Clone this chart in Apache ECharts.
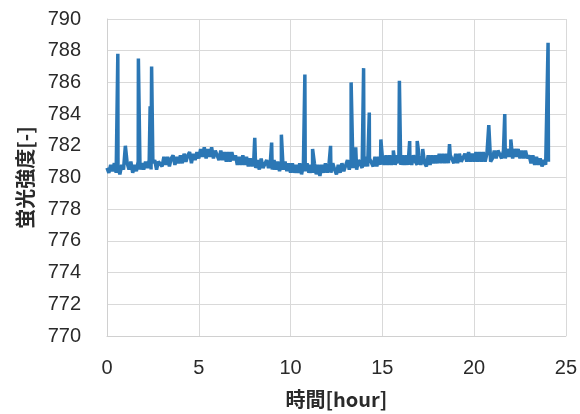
<!DOCTYPE html>
<html>
<head>
<meta charset="utf-8">
<script src="https://cdn.jsdelivr.net/npm/echarts@6/dist/echarts.min.js"></script>
<style>
    html, body { margin: 0; padding: 0; background: #fff; }
    #chart { width: 580px; height: 414px; }
</style>
</head>
<body>
<div id="chart"></div>
<script>
    // baseline readings, one row per hour, sampled every 0.1 h
    var baseStart = 0;
    var baseStep = 0.1;
    var baseValues = [
        780.6, 780.3, 780.8, 780.4, 780.9, 780.3, 780.7, 780.2, 780.8, 780.5,
        780.4, 780.9, 780.5, 781.0, 780.3, 780.8, 780.4, 781.0, 780.5, 780.9,
        780.5, 781.0, 780.6, 781.1, 780.5, 780.9, 781.1, 780.5, 781.0, 781.1,
        780.7, 781.3, 780.8, 781.3, 780.7, 781.2, 781.4, 780.8, 781.3, 780.9,
        781.4, 780.9, 781.5, 781.0, 781.4, 781.6, 780.9, 781.5, 781.1, 781.6,
        781.2, 781.8, 781.3, 781.9, 781.2, 781.8, 781.3, 781.9, 781.2, 781.7,
        781.6, 781.1, 781.7, 781.1, 781.6, 781.0, 781.6, 781.0, 781.6, 781.1,
        781.4, 780.8, 781.3, 780.8, 781.4, 780.8, 781.3, 780.7, 781.2, 780.7,
        781.2, 780.6, 781.1, 780.5, 781.2, 780.6, 780.5, 781.1, 780.6, 781.0,
        780.5, 781.1, 780.5, 781.0, 780.4, 780.9, 780.5, 781.0, 780.4, 780.9,
        780.3, 780.9, 780.3, 780.8, 780.3, 780.9, 780.2, 780.8, 780.4, 780.9,
        780.3, 780.8, 780.3, 780.9, 780.2, 780.8, 780.1, 780.8, 780.3, 780.9,
        780.3, 780.9, 780.3, 780.9, 780.5, 780.2, 780.8, 780.3, 780.9, 780.4,
        780.5, 781.1, 780.5, 781.1, 780.6, 781.2, 780.5, 781.1, 781.2, 780.6,
        780.7, 781.3, 780.7, 781.2, 781.3, 780.7, 781.3, 780.7, 781.3, 780.8,
        781.3, 780.8, 781.4, 780.8, 781.4, 780.8, 781.4, 780.8, 781.4, 780.9,
        780.8, 781.4, 780.8, 781.4, 780.8, 781.4, 780.8, 781.4, 781.0, 780.8,
        781.4, 780.8, 781.4, 780.9, 780.7, 781.4, 780.8, 781.4, 780.9, 781.4,
        780.9, 781.5, 780.9, 781.5, 780.9, 781.5, 780.9, 781.4, 781.5, 780.9,
        781.5, 780.9, 781.5, 781.0, 780.9, 781.5, 781.0, 781.6, 781.0, 781.5,
        781.0, 781.6, 781.0, 781.6, 781.0, 781.6, 781.0, 781.5, 781.6, 781.0,
        781.2, 781.7, 781.2, 781.7, 781.8, 781.2, 781.7, 781.2, 781.8, 781.3,
        781.8, 781.2, 781.8, 781.3, 781.8, 781.2, 781.7, 781.2, 781.7, 781.2,
        781.4, 780.9, 781.4, 780.8, 781.3, 780.8, 781.2, 780.7, 781.1, 780.8,
        780.9
    ];

    // short spikes (hour, value)
    var spikeTimes = [0.59, 1.0, 1.71, 2.35, 2.43, 8.05, 8.97, 9.5, 10.78, 11.2,
        12.18, 13.3, 13.55, 13.98, 14.29, 14.92, 15.6, 15.93, 16.49, 16.9,
        17.2, 18.66, 20.8, 21.67, 22.0, 24.03, 24.05];
    var spikeValues = [787.8, 782.0, 787.5, 784.5, 787.0, 782.5, 782.2, 782.7, 786.5, 781.8,
        782.0, 786.0, 781.9, 786.9, 784.1, 782.4, 781.7, 786.1, 782.3, 782.3,
        781.8, 782.1, 783.3, 784.0, 782.4, 788.5, 781.0];

    var xTicks = [0, 5, 10, 15, 20, 25];
    var yTicks = [770, 772, 774, 776, 778, 780, 782, 784, 786, 788, 790];

    var points = [];
    baseValues.forEach(function (v, i) {
        points.push([+(baseStart + i * baseStep).toFixed(2), v]);
    });
    spikeTimes.forEach(function (t, i) {
        points.push([t, spikeValues[i]]);
    });
    points.sort(function (a, b) { return a[0] - b[0]; });

    var chart = echarts.init(document.getElementById('chart'));
    var labelFont = {
        fontFamily: 'Liberation Sans',
        fontSize: 20,
        color: '#2a2a2a'
    };
    var nameFont = {
        fontFamily: 'Noto Sans CJK JP',
        fontWeight: 'bold',
        fontSize: 20,
        color: '#2a2a2a'
    };
    var option = {
        animation: false,
        backgroundColor: '#fff',
        grid: {
            left: 107,
            right: 10,
            top: 19,
            bottom: 71
        },
        xAxis: {
            type: 'value',
            min: xTicks[0],
            max: xTicks[xTicks.length - 1],
            interval: 5,
            name: '時間[hour]',
            nameLocation: 'middle',
            nameGap: 53,
            nameTextStyle: nameFont,
            axisLine: { lineStyle: { color: '#d0d0d0' } },
            axisTick: { show: false },
            axisLabel: Object.assign({ margin: 22 }, labelFont),
            splitLine: { lineStyle: { color: '#d9d9d9' } }
        },
        yAxis: {
            type: 'value',
            min: yTicks[0],
            max: yTicks[yTicks.length - 1],
            interval: 2,
            name: '蛍光強度[-]',
            nameLocation: 'middle',
            nameRotate: 90,
            nameGap: 72,
            nameTextStyle: nameFont,
            axisLine: { show: true, lineStyle: { color: '#d0d0d0' } },
            axisTick: { show: false },
            axisLabel: Object.assign({ margin: 26 }, labelFont),
            splitLine: { lineStyle: { color: '#d9d9d9' } }
        },
        series: [{
            type: 'line',
            data: points,
            showSymbol: false,
            lineStyle: {
                color: '#2b77b5',
                width: 3.5
            }
        }]
    };
    chart.setOption(option);
</script>
</body>
</html>
